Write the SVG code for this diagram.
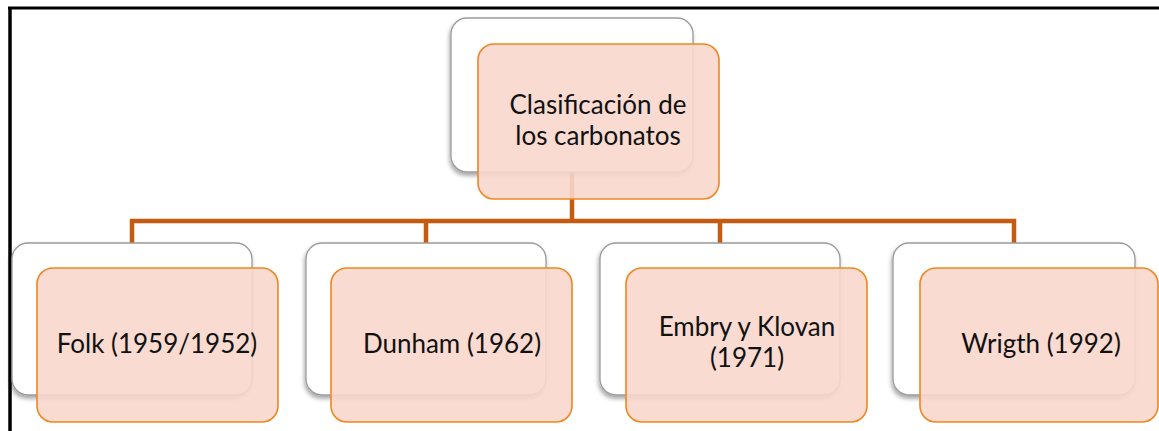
<svg xmlns="http://www.w3.org/2000/svg" width="1159" height="431" viewBox="0 0 1159 431">
<style>
.back{fill:#ffffff;stroke:#9a9a9a;stroke-width:1.3;filter:url(#sh)}
.front{fill:#F8D7CC;fill-opacity:0.9;stroke:#F0861E;stroke-width:1.6}
.lbl{font-family:Lato,"Liberation Sans",sans-serif;font-size:26px;fill:#111;text-anchor:middle}
.con{fill:none;stroke:#C55A11;stroke-width:4.5}
</style>
<defs>
<filter id="sh" x="-10%" y="-10%" width="120%" height="125%">
<feDropShadow dx="-1" dy="3" stdDeviation="2" flood-color="#000" flood-opacity="0.35"/>
</filter>
</defs>
<rect width="1159" height="431" fill="#fff"/>
<g id="frame" stroke="#000" fill="none">
<line x1="8" y1="8" x2="1159" y2="8" stroke-width="3"/>
<line x1="10" y1="7" x2="10" y2="431" stroke-width="3.5"/>
</g>
<g id="connectors">
<path class="con" d="M572 172V221M132 243V221H1014V243M426 221V243M720 221V243"/>
</g>
<g id="root">
<rect class="back" x="451" y="18" width="242" height="154" rx="16"/>
<rect class="front" x="478" y="44" width="241" height="155" rx="16"/>
<text class="lbl" x="598" y="114">Clasificación de</text>
<text class="lbl" x="598" y="145">los carbonatos</text>
</g>
<g id="folk">
<rect class="back" x="12" y="243" width="240" height="152" rx="16"/>
<rect class="front" x="37" y="268" width="241" height="154" rx="16"/>
<text class="lbl" x="157" y="353">Folk (1959/1952)</text>
</g>
<g id="dunham">
<rect class="back" x="306" y="243" width="240" height="152" rx="16"/>
<rect class="front" x="331" y="268" width="241" height="154" rx="16"/>
<text class="lbl" x="452" y="353">Dunham (1962)</text>
</g>
<g id="embry">
<rect class="back" x="600" y="243" width="240" height="152" rx="16"/>
<rect class="front" x="626" y="268" width="241" height="154" rx="16"/>
<text class="lbl" x="747" y="336">Embry y Klovan</text>
<text class="lbl" x="747" y="367">(1971)</text>
</g>
<g id="wrigth">
<rect class="back" x="893" y="243" width="242" height="152" rx="16"/>
<rect class="front" x="920" y="268" width="238" height="154" rx="16"/>
<text class="lbl" x="1041" y="353">Wrigth (1992)</text>
</g>
</svg>
